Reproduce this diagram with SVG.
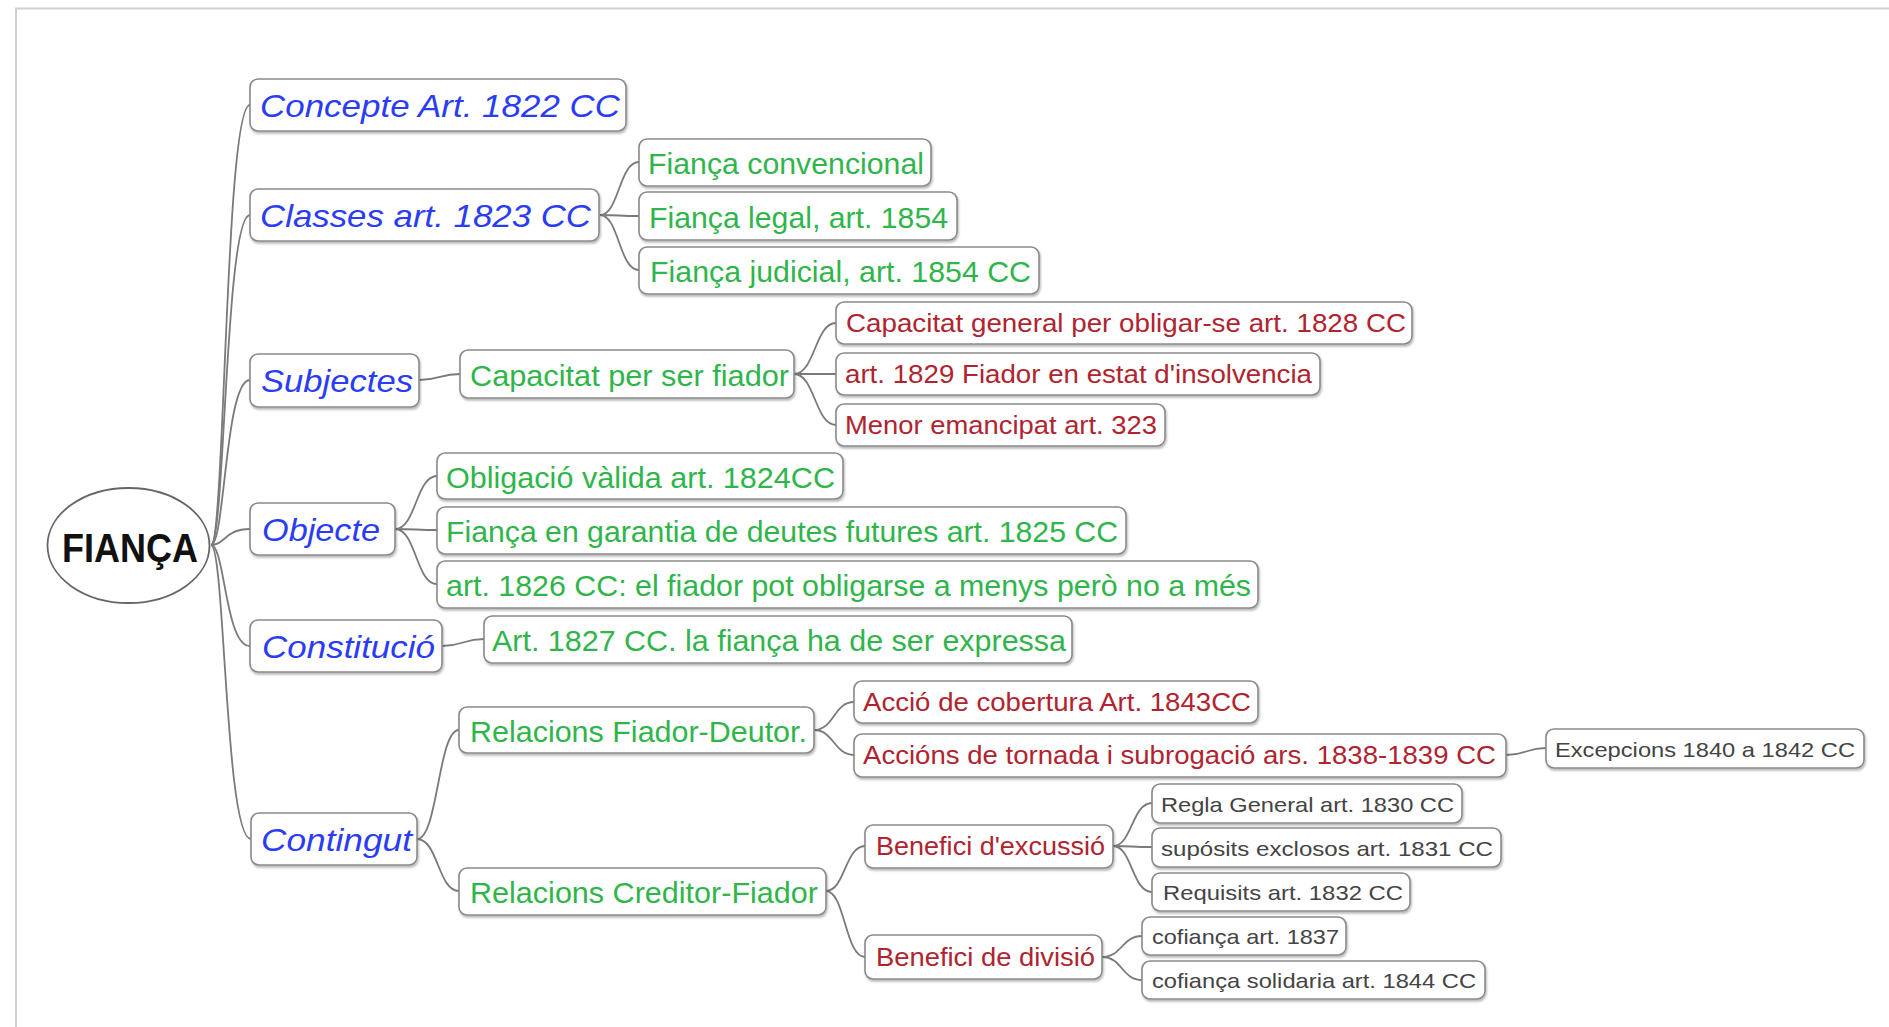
<svg xmlns="http://www.w3.org/2000/svg" width="1889" height="1027" viewBox="0 0 1889 1027">
<defs>
<filter id="sh" x="-5%" y="-20%" width="110%" height="150%">
<feDropShadow dx="1" dy="2" stdDeviation="1.2" flood-color="#000" flood-opacity="0.28"/>
</filter>
<style>
.box{fill:#fff;stroke:#8a8a8a;stroke-width:1.6;filter:url(#sh)}
.con{fill:none;stroke:#7a7a7a;stroke-width:1.8}
text{font-family:"Liberation Sans",Arial,sans-serif}
.l1{font-size:32px;font-style:italic;fill:#2a3cf5}
.l2{font-size:30px;fill:#30b54b}
.l3{font-size:25px;fill:#b0242f}
.l4{font-size:21px;fill:#444}
.root{font-size:40px;font-weight:bold;fill:#111}
</style>
</defs>
<rect x="0" y="0" width="1889" height="1027" fill="#fff"/>
<path d="M16,1027 V8.5 H1889" fill="none" stroke="#cfcfcf" stroke-width="2"/>

<g id="connectors">
<path class="con" d="M211,545 C225,545 225,105 250,105"/>
<path class="con" d="M211,545 C225,545 225,215 250,215"/>
<path class="con" d="M211,545 C225,545 225,380 250,380"/>
<path class="con" d="M211,545 C225,545 225,529 250,529"/>
<path class="con" d="M211,545 C225,545 225,646 250,646"/>
<path class="con" d="M211,545 C225,545 225,839 251,839"/>

<path class="con" d="M600,215 C619,215 619,162 639,162"/>
<path class="con" d="M600,215 C619,215 619,216 639,216"/>
<path class="con" d="M600,215 C619,215 619,270 639,270"/>

<path class="con" d="M419,380 C440,380 440,374 460,374"/>
<path class="con" d="M794,374 C815,374 815,323 836,323"/>
<path class="con" d="M794,374 C815,374 815,374 836,374"/>
<path class="con" d="M794,374 C815,374 815,425 836,425"/>

<path class="con" d="M395,529 C416,529 416,476 437,476"/>
<path class="con" d="M395,529 C416,529 416,530 437,530"/>
<path class="con" d="M395,529 C416,529 416,584 437,584"/>

<path class="con" d="M442,646 C463,646 463,639 484,639"/>

<path class="con" d="M417,839 C438,839 438,730 459,730"/>
<path class="con" d="M417,839 C438,839 438,891 459,891"/>

<path class="con" d="M814,730 C834,730 834,702 854,702"/>
<path class="con" d="M814,730 C834,730 834,755 854,755"/>
<path class="con" d="M1506,755 C1526,755 1526,748 1546,748"/>

<path class="con" d="M826,891 C845,891 845,846 865,846"/>
<path class="con" d="M826,891 C845,891 845,957 865,957"/>

<path class="con" d="M1113,846 C1132,846 1132,803 1152,803"/>
<path class="con" d="M1113,846 C1132,846 1132,847 1152,847"/>
<path class="con" d="M1113,846 C1132,846 1132,892 1152,892"/>

<path class="con" d="M1102,957 C1122,957 1122,936 1142,936"/>
<path class="con" d="M1102,957 C1122,957 1122,980 1142,980"/>
</g>

<g id="root">
<ellipse cx="128.5" cy="545.5" rx="81" ry="57.5" fill="#fff" stroke="#666" stroke-width="1.8"/>
<text class="root" x="62" y="562" textLength="136" lengthAdjust="spacingAndGlyphs">FIANÇA</text>
</g>

<g id="concepte"><rect class="box" x="250" y="79" width="376" height="52" rx="8"/><text class="l1" x="260" y="117" textLength="360" lengthAdjust="spacingAndGlyphs">Concepte Art. 1822 CC</text></g>
<g id="classes"><rect class="box" x="250" y="189" width="349" height="52" rx="8"/><text class="l1" x="260" y="227" textLength="331" lengthAdjust="spacingAndGlyphs">Classes art. 1823 CC</text></g>
<g id="subjectes"><rect class="box" x="250" y="354" width="169" height="53" rx="8"/><text class="l1" x="261" y="392" textLength="152" lengthAdjust="spacingAndGlyphs">Subjectes</text></g>
<g id="objecte"><rect class="box" x="250" y="503" width="145" height="52" rx="8"/><text class="l1" x="262" y="541" textLength="118" lengthAdjust="spacingAndGlyphs">Objecte</text></g>
<g id="constitucio"><rect class="box" x="250" y="620" width="192" height="52" rx="8"/><text class="l1" x="262" y="658" textLength="173" lengthAdjust="spacingAndGlyphs">Constitució</text></g>
<g id="contingut"><rect class="box" x="251" y="813" width="166" height="52" rx="8"/><text class="l1" x="261" y="851" textLength="151" lengthAdjust="spacingAndGlyphs">Contingut</text></g>

<g id="fianca-convencional"><rect class="box" x="639" y="139" width="292" height="47" rx="8"/><text class="l2" x="648" y="174" textLength="276" lengthAdjust="spacingAndGlyphs">Fiança convencional</text></g>
<g id="fianca-legal"><rect class="box" x="639" y="192" width="318" height="48" rx="8"/><text class="l2" x="649" y="228" textLength="299" lengthAdjust="spacingAndGlyphs">Fiança legal, art. 1854</text></g>
<g id="fianca-judicial"><rect class="box" x="639" y="247" width="400" height="47" rx="8"/><text class="l2" x="650" y="282" textLength="381" lengthAdjust="spacingAndGlyphs">Fiança judicial, art. 1854 CC</text></g>
<g id="capacitat-fiador"><rect class="box" x="460" y="350" width="334" height="48" rx="8"/><text class="l2" x="470" y="386" textLength="319" lengthAdjust="spacingAndGlyphs">Capacitat per ser fiador</text></g>
<g id="obligacio"><rect class="box" x="437" y="453" width="406" height="46" rx="8"/><text class="l2" x="446" y="488" textLength="389" lengthAdjust="spacingAndGlyphs">Obligació vàlida art. 1824CC</text></g>
<g id="garantia"><rect class="box" x="437" y="507" width="689" height="47" rx="8"/><text class="l2" x="446" y="542" textLength="672" lengthAdjust="spacingAndGlyphs">Fiança en garantia de deutes futures art. 1825 CC</text></g>
<g id="art1826"><rect class="box" x="437" y="561" width="821" height="47" rx="8"/><text class="l2" x="446" y="596" textLength="805" lengthAdjust="spacingAndGlyphs">art. 1826 CC: el fiador pot obligarse a menys però no a més</text></g>
<g id="art1827"><rect class="box" x="484" y="616" width="588" height="47" rx="8"/><text class="l2" x="492" y="651" textLength="574" lengthAdjust="spacingAndGlyphs">Art. 1827 CC. la fiança ha de ser expressa</text></g>
<g id="fiador-deutor"><rect class="box" x="459" y="707" width="355" height="46" rx="8"/><text class="l2" x="470" y="742" textLength="337" lengthAdjust="spacingAndGlyphs">Relacions Fiador-Deutor.</text></g>
<g id="creditor-fiador"><rect class="box" x="459" y="868" width="367" height="47" rx="8"/><text class="l2" x="470" y="903" textLength="348" lengthAdjust="spacingAndGlyphs">Relacions Creditor-Fiador</text></g>

<g id="capacitat-general"><rect class="box" x="836" y="302" width="576" height="42" rx="8"/><text class="l3" x="846" y="332" textLength="560" lengthAdjust="spacingAndGlyphs">Capacitat general per obligar-se art. 1828 CC</text></g>
<g id="art1829"><rect class="box" x="836" y="353" width="484" height="42" rx="8"/><text class="l3" x="845" y="383" textLength="467" lengthAdjust="spacingAndGlyphs">art. 1829 Fiador en estat d'insolvencia</text></g>
<g id="menor"><rect class="box" x="836" y="404" width="329" height="42" rx="8"/><text class="l3" x="845" y="434" textLength="312" lengthAdjust="spacingAndGlyphs">Menor emancipat art. 323</text></g>
<g id="cobertura"><rect class="box" x="854" y="681" width="404" height="42" rx="8"/><text class="l3" x="863" y="711" textLength="388" lengthAdjust="spacingAndGlyphs">Acció de cobertura Art. 1843CC</text></g>
<g id="tornada"><rect class="box" x="854" y="734" width="652" height="43" rx="8"/><text class="l3" x="863" y="764" textLength="633" lengthAdjust="spacingAndGlyphs">Accións de tornada i subrogació ars. 1838-1839 CC</text></g>
<g id="excussio"><rect class="box" x="865" y="825" width="248" height="43" rx="8"/><text class="l3" x="876" y="855" textLength="229" lengthAdjust="spacingAndGlyphs">Benefici d'excussió</text></g>
<g id="divisio"><rect class="box" x="865" y="935" width="237" height="44" rx="8"/><text class="l3" x="876" y="966" textLength="219" lengthAdjust="spacingAndGlyphs">Benefici de divisió</text></g>

<g id="excepcions"><rect class="box" x="1546" y="729" width="318" height="39" rx="8"/><text class="l4" x="1555" y="757" textLength="300" lengthAdjust="spacingAndGlyphs">Excepcions 1840 a 1842 CC</text></g>
<g id="regla-general"><rect class="box" x="1152" y="784" width="310" height="39" rx="8"/><text class="l4" x="1161" y="812" textLength="293" lengthAdjust="spacingAndGlyphs">Regla General art. 1830 CC</text></g>
<g id="suposits"><rect class="box" x="1152" y="828" width="349" height="39" rx="8"/><text class="l4" x="1161" y="856" textLength="332" lengthAdjust="spacingAndGlyphs">supósits exclosos art. 1831 CC</text></g>
<g id="requisits"><rect class="box" x="1152" y="873" width="258" height="38" rx="8"/><text class="l4" x="1163" y="900" textLength="240" lengthAdjust="spacingAndGlyphs">Requisits art. 1832 CC</text></g>
<g id="cofianca"><rect class="box" x="1142" y="917" width="204" height="38" rx="8"/><text class="l4" x="1152" y="944" textLength="187" lengthAdjust="spacingAndGlyphs">cofiança art. 1837</text></g>
<g id="cofianca-solidaria"><rect class="box" x="1142" y="961" width="343" height="38" rx="8"/><text class="l4" x="1152" y="988" textLength="324" lengthAdjust="spacingAndGlyphs">cofiança solidaria art. 1844 CC</text></g>
</svg>
